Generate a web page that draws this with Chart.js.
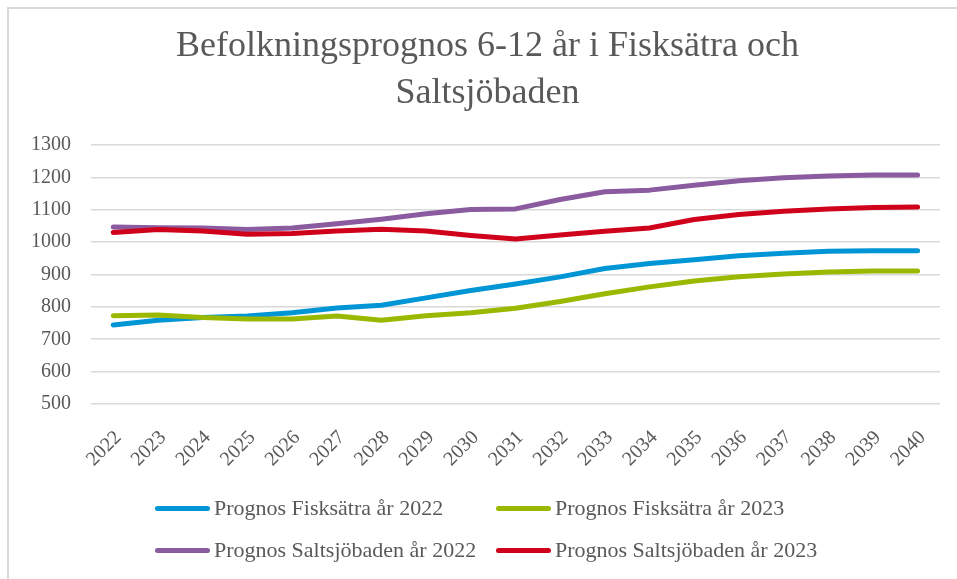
<!DOCTYPE html>
<html>
<head>
<meta charset="utf-8">
<script src="https://cdn.jsdelivr.net/npm/chart.js@4"></script>
<style>
    body { margin: 0; background: #fff; }
    #wrap { position: relative; width: 957px; height: 579px; overflow: hidden; }
    #frame { position: absolute; left: 7px; top: 7px; right: 0; bottom: 0; border-left: 2px solid #d9d9d9; border-top: 2px solid #d9d9d9; }
    canvas { position: absolute; left: 0; top: 0; }
    #legend { position: absolute; left: 0; top: 0; width: 957px; height: 579px; font-family: "Liberation Serif", serif; font-size: 22px; color: #595959; }
    .item { position: absolute; display: flex; align-items: center; white-space: nowrap; transform: translateY(-50%); }
    .sw { width: 55px; height: 5px; border-radius: 3px; margin-right: 4px; }
</style>
</head>
<body>
<div id="wrap">
    <div id="frame"></div>
    <canvas id="chart" width="957" height="579"></canvas>
    <div id="legend"></div>
</div>
<script>
const years = ['2022','2023','2024','2025','2026','2027','2028','2029','2030','2031','2032','2033','2034','2035','2036','2037','2038','2039','2040'];
const fisk2022 = [744, 759, 767, 772, 782, 797, 805, 828, 851, 871, 893, 919, 934, 946, 958, 966, 972, 974, 974];
const fisk2023 = [773, 775, 767, 763, 763, 772, 759, 773, 782, 796, 817, 841, 862, 880, 893, 902, 908, 911, 911];
const salt2022 = [1047, 1045, 1044, 1039, 1044, 1057, 1071, 1088, 1101, 1103, 1132, 1156, 1161, 1176, 1190, 1199, 1205, 1208, 1208];
const salt2023 = [1030, 1039, 1035, 1025, 1027, 1035, 1040, 1035, 1021, 1010, 1022, 1034, 1044, 1070, 1086, 1096, 1103, 1107, 1109];
const seriesNames = ['Prognos Fisksätra år 2022', 'Prognos Fisksätra år 2023', 'Prognos Saltsjöbaden år 2022', 'Prognos Saltsjöbaden år 2023'];
const seriesColors = ['#0096d6', '#9bb800', '#8b5ba0', '#d0021b'];
const yTicks = [500, 600, 700, 800, 900, 1000, 1100, 1200, 1300];

const textColor = '#595959';
const serif = '"Liberation Serif", "Times New Roman", serif';

const allSeries = [fisk2022, fisk2023, salt2022, salt2023];
const datasets = allSeries.map((d, i) => ({
    label: seriesNames[i],
    data: d,
    borderColor: seriesColors[i],
    backgroundColor: seriesColors[i],
    borderWidth: 5,
    pointRadius: 0,
    tension: 0,
    borderCapStyle: 'round',
    borderJoinStyle: 'round',
    order: 3 - i // Excel ritar sista serien överst
}));

// rubriken står lite till höger om mitten i Excel-bilden
const titleShift = {
    id: 'titleShift',
    afterLayout(chart) {
        chart.titleBlock.left = 35;
        chart.titleBlock.right = 940;
    }
};

new Chart(document.getElementById('chart'), {
    type: 'line',
    data: { labels: years, datasets },
    plugins: [titleShift],
    options: {
        responsive: false,
        animation: false,
        layout: { padding: { left: 0, right: 17, top: 0, bottom: 100 } },
        plugins: {
            legend: { display: false },
            tooltip: { enabled: false },
            title: {
                display: true,
                text: ['Befolkningsprognos 6-12 år i Fisksätra och', 'Saltsjöbaden'],
                color: textColor,
                font: { family: serif, size: 36, weight: 'normal', lineHeight: 1.28 },
                padding: { top: 24, bottom: 29 }
            }
        },
        scales: {
            x: {
                offset: true,
                grid: { display: false, drawTicks: false },
                border: { display: false },
                afterFit: s => { s.height = 75; },
                ticks: {
                    color: textColor,
                    font: { family: serif, size: 20 },
                    minRotation: 45, maxRotation: 45,
                    autoSkip: false,
                    labelOffset: 5,
                    padding: 22
                }
            },
            y: {
                min: 500, max: 1300,
                afterFit: s => { s.width = 91; },
                afterBuildTicks: s => { s.ticks = yTicks.map(v => ({ value: v })); },
                grid: { color: '#d9d9d9', lineWidth: 1.6, drawTicks: false },
                border: { display: false },
                ticks: {
                    color: textColor,
                    font: { family: serif, size: 20 },
                    padding: 20,
                    callback: v => String(v)
                }
            }
        }
    }
});

// legend i två kolumner som i Excel
const legendPos = [[155, 508], [496, 508], [155, 550], [496, 550]];
const legendEl = document.getElementById('legend');
seriesNames.forEach((name, i) => {
    const it = document.createElement('div');
    it.className = 'item';
    it.style.left = legendPos[i][0] + 'px';
    it.style.top = legendPos[i][1] + 'px';
    it.innerHTML = `<span class="sw" style="background:${seriesColors[i]}"></span><span>${name}</span>`;
    legendEl.appendChild(it);
});
</script>
</body>
</html>
